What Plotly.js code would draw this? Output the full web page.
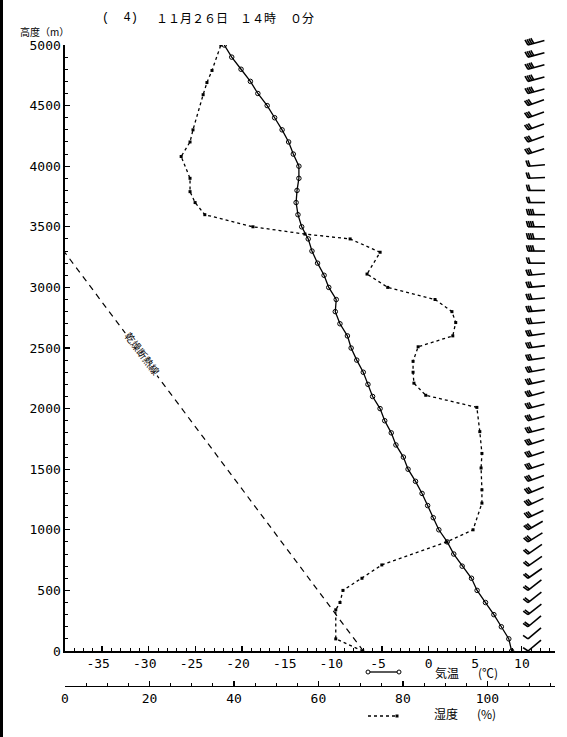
<!DOCTYPE html>
<html><head><meta charset="utf-8">
<script src="https://cdn.plot.ly/plotly-3.0.1.min.js"></script>
<style>html,body{margin:0;padding:0;background:#fff}</style>
</head><body><div id="chart" style="width:567px;height:737px"></div>
<script>
// ---------- data ----------
const tempHeights = [0,100,200,300,400,500,600,700,800,900,1000,1100,1200,1300,1400,1500,1600,1700,1800,1900,2000,2100,2200,2300,2400,2500,2600,2700,2800,2900,3000,3100,3200,3300,3400,3500,3600,3700,3800,3900,4000,4100,4200,4300,4400,4500,4600,4700,4800,4900,5000];
const tempValues = [8.9,8.6,7.8,7.0,6.1,5.2,4.6,3.6,2.7,2.0,1.1,0.5,-0.1,-0.7,-1.4,-2.2,-2.7,-3.5,-4.0,-4.7,-5.2,-6.0,-6.5,-7.0,-7.7,-8.3,-8.7,-9.5,-10.0,-9.9,-10.7,-11.2,-11.9,-12.5,-12.9,-13.6,-14.0,-14.2,-14.1,-13.9,-13.9,-14.5,-15.0,-15.7,-16.5,-17.3,-18.3,-19.1,-20.1,-21.1,-21.9];

const humidHeights = [0,100,340,400,500,600,710,900,1000,1220,1330,1510,1630,1810,2010,2110,2210,2300,2390,2510,2600,2710,2800,2900,3000,3110,3290,3400,3440,3500,3600,3700,3790,3900,4080,4200,4300,4590,4690,4790,5000];
const humidValues  = [70.5,64.1,64.1,65.1,65.8,70.3,75.0,90.4,96.6,98.7,98.7,98.5,98.7,98.2,97.5,85.4,82.6,82.4,82.4,83.6,91.8,92.5,91.6,87.6,76.4,71.5,74.6,67.5,56.8,44.5,33.1,30.8,29.6,29.6,27.5,29.6,30.3,32.7,33.6,34.8,36.9];

const adiabatHeights = [0, 3290];
const adiabatTemps = [-7.0, -39.0];

const windHeights = [0,100,200,300,400,500,600,700,800,900,1000,1100,1200,1300,1400,1500,1600,1700,1800,1900,2000,2100,2200,2300,2400,2500,2600,2700,2800,2900,3000,3100,3200,3300,3400,3500,3600,3700,3800,3900,4000,4100,4200,4300,4400,4500,4600,4700,4800,4900,5000];
const windAngles = [40,40,40,38,38,38, 35,35,35,32,30, 25,25,22,20, 18,18,18,15,15,15,15,12, 10,8,8,8,5,5,5,5,5, 0, 0,0,0,0, 0,0,3,5, 18,20,20,20,20, 15,15,15,15,15];
const windFeathers = [1,1,2,2,2,2, 2,2,2,3,3, 3,3,3,3, 3,3,3,3,3,3,3,3, 3,3,3,3,3,3,3,3,3, 2, 4,4,4,4, 2,2,2,2, 3,3,3,3,3, 4,4,4,4,4];

const tempTicks = [-35,-30,-25,-20,-15,-10,-5,0,5,10];
const humidTicks = [0,20,40,60,80,100];
const heightTicks = [0,500,1000,1500,2000,2500,3000,3500,4000,4500,5000];

// ---------- layout geometry ----------
const M = {l:65, r:12, t:20, b:51};
const W = 567, H = 737;
const plotW = W - M.l - M.r, paperH = H - M.t - M.b;
const px = x => (x - M.l) / plotW;
const py = y => (H - M.b - y) / paperH;
const d0 = py(651), d1 = py(45);
const mpp = 5000 / ((d1 - d0) * paperH); // metres per pixel on height axis
const yTop3 = 5000 * (1 - d0) / (d1 - d0);

// ---------- wind barbs ----------
const bx = [], by = [];
const P = 528 - M.l, Ls = 17, F = 6, sp = 2.0;
windHeights.forEach((h, k) => {
  const a = windAngles[k] * Math.PI / 180, ca = Math.cos(a), sa = Math.sin(a);
  bx.push(P, P + Ls * ca, null); by.push(h, h + Ls * sa * mpp, null);
  const b = a + 105 * Math.PI / 180;
  for (let i = 0; i < windFeathers[k]; i++) {
    const sx = P + i * sp * ca, sy = h + i * sp * sa * mpp;
    bx.push(sx, sx + F * Math.cos(b), null);
    by.push(sy, sy + F * Math.sin(b) * mpp, null);
  }
});

const mono = {family:'DejaVu Sans Mono, monospace', size:13, color:'#000'};
const cjk = 'Noto Sans CJK JP';

const traces = [
  {x: adiabatTemps, y: adiabatHeights, xaxis:'x', yaxis:'y', mode:'lines',
   line:{color:'#000', width:1.2, dash:'6px,5px'}, hoverinfo:'skip'},
  {x: humidValues, y: humidHeights, xaxis:'x2', yaxis:'y', mode:'lines+markers',
   line:{color:'#000', width:1.3, dash:'3px,3px'}, marker:{symbol:'square', size:3, color:'#000'}, hoverinfo:'skip'},
  {x: tempValues, y: tempHeights, xaxis:'x', yaxis:'y', mode:'lines+markers',
   line:{color:'#000', width:1.3}, marker:{symbol:'circle-open', size:4.5, color:'#000', line:{width:1}}, hoverinfo:'skip'},
  {x: bx, y: by, xaxis:'x3', yaxis:'y3', mode:'lines', line:{color:'#000', width:1.6}, hoverinfo:'skip'}
];

const layout = {
  width: W, height: H, margin: M, showlegend:false,
  paper_bgcolor:'#fff', plot_bgcolor:'rgba(0,0,0,0)',
  xaxis: {range:[-38.97, 13.55], domain:[0,1], anchor:'y', showline:true, linecolor:'#000', linewidth:1.6,
          showgrid:false, zeroline:false, ticks:'inside', ticklen:5, tickwidth:1.2, tickcolor:'#000',
          tickmode:'array', tickvals: tempTicks, ticktext: tempTicks.map(v => v < 0 ? v + '\u00a0' : String(v)), tickfont: mono,
          minor:{tickmode:'linear', tick0:0, dtick:1, ticks:'inside', ticklen:3, tickcolor:'#000', tickwidth:1}},
  xaxis2: {range:[0,116], overlaying:'x', anchor:'free', position:0, side:'bottom', showline:true, linecolor:'#000', linewidth:1.2,
          showgrid:false, zeroline:false, ticks:'inside', ticklen:5, tickwidth:1.2, tickcolor:'#000',
          tickmode:'array', tickvals: humidTicks, ticktext: humidTicks.map(String), tickfont: mono,
          minor:{tickmode:'linear', tick0:0, dtick:5, ticks:'inside', ticklen:3, tickcolor:'#000', tickwidth:1}},
  yaxis: {range:[0,5000], domain:[d0,d1], anchor:'x', showline:true, linecolor:'#000', linewidth:1.6,
          showgrid:false, zeroline:false, ticks:'inside', ticklen:5, tickwidth:1.2, tickcolor:'#000',
          tickmode:'array', tickvals: heightTicks, ticktext: heightTicks.map(String), tickfont: mono,
          minor:{tickmode:'linear', tick0:0, dtick:100, ticks:'inside', ticklen:3, tickcolor:'#000', tickwidth:1}},
  xaxis3: {range:[0, plotW], domain:[0,1], anchor:'y3', visible:false, fixedrange:true},
  yaxis3: {range:[0, yTop3], domain:[d0,1], anchor:'x3', visible:false, fixedrange:true},
  annotations: [
    {xref:'paper', yref:'paper', x:px(100), y:py(18), xanchor:'left', yanchor:'middle', showarrow:false, text:'(  4)', font:{family:'Liberation Mono', size:12, color:'#000'}},
    {xref:'paper', yref:'paper', x:px(154), y:py(18), xanchor:'left', yanchor:'middle', showarrow:false, text:'１１月２６日', font:{family:cjk, size:12, color:'#000'}},
    {xref:'paper', yref:'paper', x:px(238), y:py(18), xanchor:'left', yanchor:'middle', showarrow:false, text:'１４時', font:{family:cjk, size:12, color:'#000'}},
    {xref:'paper', yref:'paper', x:px(288), y:py(18), xanchor:'left', yanchor:'middle', showarrow:false, text:'０分', font:{family:cjk, size:12, color:'#000'}},
    {xref:'paper', yref:'paper', x:px(18), y:py(31), xanchor:'left', yanchor:'middle', showarrow:false, text:'高度（m）', font:{family:cjk, size:10, color:'#000'}},
    {xref:'paper', yref:'paper', x:px(143), y:py(353), xanchor:'center', yanchor:'middle', showarrow:false, text:'乾燥断熱線', textangle:53, bgcolor:'#fff', font:{family:cjk, size:10, color:'#000'}},
    {xref:'paper', yref:'paper', x:px(447), y:py(672), xanchor:'center', yanchor:'middle', showarrow:false, text:'気温', font:{family:cjk, size:12, color:'#000'}},
    {xref:'paper', yref:'paper', x:px(488), y:py(672), xanchor:'center', yanchor:'middle', showarrow:false, text:'(℃)', font:{family:cjk, size:12, color:'#000'}},
    {xref:'paper', yref:'paper', x:px(446), y:py(713), xanchor:'center', yanchor:'middle', showarrow:false, text:'湿度', font:{family:cjk, size:12, color:'#000'}},
    {xref:'paper', yref:'paper', x:px(486), y:py(713), xanchor:'center', yanchor:'middle', showarrow:false, text:'(%)', font:{family:cjk, size:12, color:'#000'}}
  ],
  shapes: [
    {type:'rect', xref:'paper', yref:'paper', x0:px(0), x1:px(3), y0:py(737), y1:py(0), fillcolor:'#000', line:{width:0}},
    {type:'line', xref:'paper', yref:'paper', x0:px(368), x1:px(399), y0:py(672), y1:py(672), line:{color:'#000', width:1.3}},
    {type:'circle', xref:'paper', yref:'paper', xsizemode:'pixel', ysizemode:'pixel', xanchor:px(368), yanchor:py(672), x0:-2, x1:2, y0:-2, y1:2, fillcolor:'#fff', line:{color:'#000', width:1}},
    {type:'circle', xref:'paper', yref:'paper', xsizemode:'pixel', ysizemode:'pixel', xanchor:px(399), yanchor:py(672), x0:-2, x1:2, y0:-2, y1:2, fillcolor:'#fff', line:{color:'#000', width:1}},
    {type:'line', xref:'paper', yref:'paper', x0:px(368), x1:px(395), y0:py(716), y1:py(716), line:{color:'#000', width:1.3, dash:'3px,3px'}},
    {type:'rect', xref:'paper', yref:'paper', xsizemode:'pixel', ysizemode:'pixel', xanchor:px(397), yanchor:py(716), x0:-1.5, x1:1.5, y0:-1.5, y1:1.5, fillcolor:'#000', line:{width:0}}
  ]
};

Plotly.newPlot('chart', traces, layout, {staticPlot:true, displayModeBar:false});
</script></body></html>
